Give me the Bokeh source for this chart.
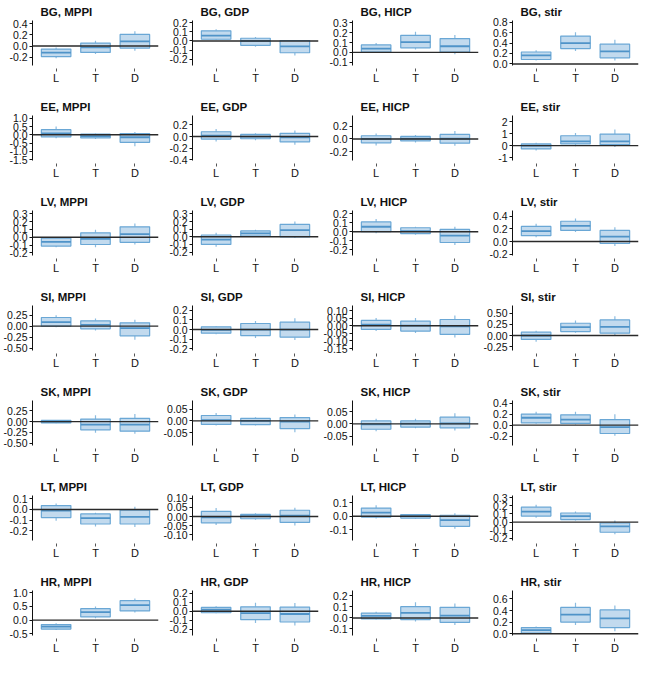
from bokeh.plotting import figure
from bokeh.layouts import gridplot
from bokeh.models import FixedTicker, Range1d, Span
from bokeh.embed import file_html
from bokeh.resources import INLINE

countries = ["BG", "EE", "LV", "SI", "SK", "LT", "HR"]
variables = ["MPPI", "GDP", "HICP", "stir"]
categories = ["L", "T", "D"]

# box statistics per panel, ordered L, T, D
whisker_low = {
    "BG, MPPI": [-0.22, -0.145, -0.084], "BG, GDP": [0.01, -0.063, -0.16],
    "BG, HICP": [-0.007, 0.03, -0.02], "BG, stir": [0.065, 0.247, 0.065],
    "EE, MPPI": [-0.21, -0.25, -0.69], "EE, GDP": [-0.087, -0.065, -0.142],
    "EE, HICP": [-0.1, -0.055, -0.105], "EE, stir": [-0.42, -0.06, -0.11],
    "LV, MPPI": [-0.128, -0.128, -0.092], "LV, GDP": [-0.13, 0.0, -0.016],
    "LV, HICP": [-0.018, -0.033, -0.149], "LV, stir": [0.067, 0.15, -0.072],
    "SI, MPPI": [-0.023, -0.1, -0.31], "SI, GDP": [-0.049, -0.09, -0.11],
    "SI, HICP": [-0.035, -0.048, -0.078], "SI, stir": [-0.14, 0.06, 0.0],
    "SK, MPPI": [-0.04, -0.26, -0.28], "SK, GDP": [-0.02, -0.02, -0.048],
    "SK, HICP": [-0.03, -0.018, -0.027], "SK, stir": [0.023, 0.012, -0.193],
    "LT, MPPI": [-0.106, -0.16, -0.163], "LT, GDP": [-0.046, -0.018, -0.048],
    "LT, HICP": [-0.017, -0.019, -0.093], "LT, stir": [0.052, 0.018, -0.149],
    "HR, MPPI": [-0.36, 0.07, 0.28], "HR, GDP": [-0.024, -0.132, -0.16],
    "HR, HICP": [-0.015, -0.032, -0.065], "HR, stir": [0.0, 0.151, 0.044],
}
q1 = {
    "BG, MPPI": [-0.19, -0.114, -0.036], "BG, GDP": [0.019, -0.048, -0.13],
    "BG, HICP": [0.003, 0.046, 0.003], "BG, stir": [0.085, 0.293, 0.117],
    "EE, MPPI": [-0.13, -0.19, -0.46], "EE, GDP": [-0.044, -0.038, -0.093],
    "EE, HICP": [-0.06, -0.03, -0.065], "EE, stir": [-0.28, 0.14, 0.08],
    "LV, MPPI": [-0.112, -0.092, -0.064], "LV, GDP": [-0.1, 0.008, 0.0],
    "LV, HICP": [0.0, -0.022, -0.12], "LV, stir": [0.093, 0.176, -0.031],
    "SI, MPPI": [0.0, -0.06, -0.22], "SI, GDP": [-0.038, -0.063, -0.08],
    "SI, HICP": [-0.024, -0.035, -0.057], "SI, stir": [-0.09, 0.09, 0.053],
    "SK, MPPI": [-0.03, -0.19, -0.22], "SK, GDP": [-0.015, -0.016, -0.033],
    "SK, HICP": [-0.022, -0.013, -0.016], "SK, stir": [0.04, 0.03, -0.152],
    "LT, MPPI": [-0.076, -0.136, -0.136], "LT, GDP": [-0.034, -0.012, -0.032],
    "LT, HICP": [-0.007, -0.014, -0.075], "LT, stir": [0.073, 0.031, -0.124],
    "HR, MPPI": [-0.326, 0.116, 0.337], "HR, GDP": [-0.017, -0.094, -0.12],
    "HR, HICP": [-0.009, -0.015, -0.041], "HR, stir": [0.013, 0.202, 0.107],
}
median = {
    "BG, MPPI": [-0.12, -0.024, 0.084], "BG, GDP": [0.059, 0.0, -0.059],
    "BG, HICP": [0.039, 0.104, 0.062], "BG, stir": [0.163, 0.397, 0.241],
    "EE, MPPI": [0.077, -0.077, -0.15], "EE, GDP": [0.016, 0.0, -0.016],
    "EE, HICP": [0.0, 0.005, 0.005], "EE, stir": [0.0, 0.36, 0.36],
    "LV, MPPI": [-0.06, -0.02, 0.04], "LV, GDP": [-0.037, 0.045, 0.089],
    "LV, HICP": [0.055, 0.007, -0.044], "LV, stir": [0.165, 0.248, 0.078],
    "SI, MPPI": [0.09, 0.03, -0.045], "SI, GDP": [-0.003, 0.0, 0.0],
    "SI, HICP": [0.007, 0.0, -0.004], "SI, stir": [0.0, 0.188, 0.195],
    "SK, MPPI": [0.0, -0.07, -0.07], "SK, GDP": [0.003, 0.0, -0.003],
    "SK, HICP": [-0.002, 0.001, 0.002], "SK, stir": [0.134, 0.1, -0.035],
    "LT, MPPI": [-0.01, -0.082, -0.07], "LT, GDP": [-0.004, 0.002, 0.005],
    "LT, HICP": [0.027, 0.0, -0.029], "LT, stir": [0.128, 0.073, -0.053],
    "HR, MPPI": [-0.233, 0.29, 0.547], "HR, GDP": [0.017, -0.021, -0.031],
    "HR, HICP": [0.018, 0.047, 0.021], "HR, stir": [0.063, 0.328, 0.265],
}
q3 = {
    "BG, MPPI": [-0.054, 0.054, 0.21], "BG, GDP": [0.111, 0.03, 0.005],
    "BG, HICP": [0.075, 0.173, 0.14], "BG, stir": [0.228, 0.533, 0.377],
    "EE, MPPI": [0.31, 0.04, 0.077], "EE, GDP": [0.082, 0.038, 0.055],
    "EE, HICP": [0.05, 0.04, 0.07], "EE, stir": [0.14, 0.83, 0.97],
    "LV, MPPI": [-0.012, 0.056, 0.132], "LV, GDP": [0.024, 0.077, 0.163],
    "LV, HICP": [0.109, 0.044, 0.025], "LV, stir": [0.238, 0.32, 0.176],
    "SI, MPPI": [0.197, 0.121, 0.076], "SI, GDP": [0.028, 0.063, 0.077],
    "SI, HICP": [0.035, 0.03, 0.041], "SI, stir": [0.075, 0.278, 0.353],
    "SK, MPPI": [0.03, 0.06, 0.076], "SK, GDP": [0.023, 0.011, 0.014],
    "SK, HICP": [0.012, 0.012, 0.027], "SK, stir": [0.2, 0.187, 0.1],
    "LT, MPPI": [0.036, -0.042, -0.006], "LT, GDP": [0.028, 0.012, 0.034],
    "LT, HICP": [0.06, 0.012, 0.007], "LT, stir": [0.182, 0.111, -0.011],
    "HR, MPPI": [-0.163, 0.419, 0.71], "HR, GDP": [0.042, 0.049, 0.045],
    "HR, HICP": [0.044, 0.103, 0.097], "HR, stir": [0.107, 0.454, 0.41],
}
whisker_high = {
    "BG, MPPI": [-0.025, 0.096, 0.265], "BG, GDP": [0.13, 0.044, 0.01],
    "BG, HICP": [0.094, 0.208, 0.176], "BG, stir": [0.26, 0.605, 0.46],
    "EE, MPPI": [0.5, 0.077, 0.17], "EE, GDP": [0.13, 0.055, 0.104],
    "EE, HICP": [0.085, 0.06, 0.125], "EE, stir": [0.25, 1.05, 1.36],
    "LV, MPPI": [0.0, 0.096, 0.176], "LV, GDP": [0.053, 0.093, 0.2],
    "LV, HICP": [0.142, 0.055, 0.055], "LV, stir": [0.28, 0.362, 0.227],
    "SI, MPPI": [0.25, 0.174, 0.144], "SI, GDP": [0.038, 0.09, 0.118],
    "SI, HICP": [0.05, 0.05, 0.067], "SI, stir": [0.11, 0.338, 0.435],
    "SK, MPPI": [0.04, 0.15, 0.176], "SK, GDP": [0.034, 0.016, 0.027],
    "SK, HICP": [0.021, 0.021, 0.043], "SK, stir": [0.245, 0.245, 0.198],
    "LT, MPPI": [0.055, -0.03, 0.024], "LT, GDP": [0.046, 0.018, 0.048],
    "LT, HICP": [0.08, 0.017, 0.022], "LT, stir": [0.212, 0.128, 0.018],
    "HR, MPPI": [-0.116, 0.5, 0.79], "HR, GDP": [0.056, 0.094, 0.09],
    "HR, HICP": [0.056, 0.144, 0.132], "HR, stir": [0.126, 0.536, 0.486],
}

# y-axis ranges and tick labels per panel
y_limits = {
    "BG, MPPI": (-0.35, 0.46), "BG, GDP": (-0.27, 0.225), "BG, HICP": (-0.133, 0.323), "BG, stir": (-0.03, 0.83),
    "EE, MPPI": (-1.56, 1.17), "EE, GDP": (-0.41, 0.36), "EE, HICP": (-0.335, 0.365), "EE, stir": (-1.25, 2.53),
    "LV, MPPI": (-0.232, 0.34), "LV, GDP": (-0.245, 0.345), "LV, HICP": (-0.265, 0.236), "LV, stir": (-0.22, 0.49),
    "SI, MPPI": (-0.553, 0.47), "SI, GDP": (-0.22, 0.252), "SI, HICP": (-0.163, 0.133), "SI, stir": (-0.34, 0.68),
    "SK, MPPI": (-0.553, 0.49), "SK, GDP": (-0.105, 0.087), "SK, HICP": (-0.088, 0.095), "SK, stir": (-0.37, 0.447),
    "LT, MPPI": (-0.29, 0.13), "LT, GDP": (-0.13, 0.114), "LT, HICP": (-0.18, 0.153), "LT, stir": (-0.225, 0.325),
    "HR, MPPI": (-0.56, 1.08), "HR, GDP": (-0.27, 0.23), "HR, HICP": (-0.16, 0.25), "HR, stir": (-0.03, 0.745),
}
y_ticks = {
    "BG, MPPI": ["-0.2", "0.0", "0.2", "0.4"],
    "BG, GDP": ["-0.2", "-0.1", "0.0", "0.1", "0.2"],
    "BG, HICP": ["-0.1", "0.0", "0.1", "0.2", "0.3"],
    "BG, stir": ["0.0", "0.2", "0.4", "0.6", "0.8"],
    "EE, MPPI": ["-1.5", "-1.0", "-0.5", "0.0", "0.5", "1.0"],
    "EE, GDP": ["-0.4", "-0.2", "0.0", "0.2"],
    "EE, HICP": ["-0.2", "0.0", "0.2"],
    "EE, stir": ["-1", "0", "1", "2"],
    "LV, MPPI": ["-0.2", "-0.1", "0.0", "0.1", "0.2", "0.3"],
    "LV, GDP": ["-0.2", "-0.1", "0.0", "0.1", "0.2", "0.3"],
    "LV, HICP": ["-0.2", "-0.1", "0.0", "0.1", "0.2"],
    "LV, stir": ["-0.2", "0.0", "0.2", "0.4"],
    "SI, MPPI": ["-0.50", "-0.25", "0.00", "0.25"],
    "SI, GDP": ["-0.2", "-0.1", "0.0", "0.1", "0.2"],
    "SI, HICP": ["-0.15", "-0.10", "-0.05", "0.00", "0.05", "0.10"],
    "SI, stir": ["-0.25", "0.00", "0.25", "0.50"],
    "SK, MPPI": ["-0.50", "-0.25", "0.00", "0.25"],
    "SK, GDP": ["-0.05", "0.00", "0.05"],
    "SK, HICP": ["-0.05", "0.00", "0.05"],
    "SK, stir": ["-0.2", "0.0", "0.2", "0.4"],
    "LT, MPPI": ["-0.2", "-0.1", "0.0", "0.1"],
    "LT, GDP": ["-0.10", "-0.05", "0.00", "0.05", "0.10"],
    "LT, HICP": ["-0.1", "0.0", "0.1"],
    "LT, stir": ["-0.2", "-0.1", "0.0", "0.1", "0.2", "0.3"],
    "HR, MPPI": ["-0.5", "0.0", "0.5", "1.0"],
    "HR, GDP": ["-0.2", "-0.1", "0.0", "0.1", "0.2"],
    "HR, HICP": ["-0.1", "0.0", "0.1", "0.2"],
    "HR, stir": ["0.0", "0.2", "0.4", "0.6"],
}

FONT = "Liberation Sans"
BOX_FILL = "#c2daee"
BOX_LINE = "#6aa7d5"
MEDIAN = "#4f93c8"
WHISKER = "#8cbce0"
BOX_W = 0.75

figs = []
for c in countries:
    for v in variables:
        name = f"{c}, {v}"
        lo_lim, hi_lim = y_limits[name]
        p = figure(width=160, height=95, output_backend="svg", toolbar_location=None,
                   x_range=Range1d(0.4, 3.6), y_range=Range1d(lo_lim, hi_lim),
                   min_border_left=31, min_border_right=2, min_border_top=19,
                   min_border_bottom=30)
        p.title.text = name
        p.title.text_font = FONT
        p.title.text_font_style = "bold"
        p.title.text_font_size = "11.5px"
        p.title.text_color = "#111111"
        p.title.align = "left"
        p.title.offset = 8
        p.title.standoff = 6
        p.grid.visible = False
        p.outline_line_color = None

        xs = [i + 1 for i in range(len(categories))]
        lo = whisker_low[name]
        b1 = q1[name]
        md = median[name]
        b3 = q3[name]
        hi = whisker_high[name]

        p.segment(x0=xs, y0=b3, x1=xs, y1=hi, line_color=WHISKER, line_width=1.2)
        p.segment(x0=xs, y0=lo, x1=xs, y1=b1, line_color=WHISKER, line_width=1.2)
        p.vbar(x=xs, width=BOX_W, bottom=b1, top=b3, fill_color=BOX_FILL,
               line_color=BOX_LINE, line_width=1.2)
        p.segment(x0=[x - BOX_W / 2 for x in xs], y0=md, x1=[x + BOX_W / 2 for x in xs], y1=md,
                  line_color=MEDIAN, line_width=1.8)
        p.add_layout(Span(location=0, dimension="width", line_color="#2a2a2a", line_width=1.4))

        # x axis: no line, detached ticks
        xa = p.xaxis[0]
        xa.ticker = FixedTicker(ticks=xs)
        xa.major_label_overrides = {x: cat for x, cat in zip(xs, categories)}
        xa.axis_line_color = None
        xa.major_tick_in = -3
        xa.major_tick_out = 6
        xa.major_tick_line_color = "#555555"
        xa.minor_tick_line_color = None
        xa.major_label_text_font = FONT
        xa.major_label_text_font_size = "11px"
        xa.major_label_text_color = "#111111"
        xa.major_label_standoff = 0

        ya = p.yaxis[0]
        tick_vals = [float(t) for t in y_ticks[name]]
        ya.ticker = FixedTicker(ticks=tick_vals)
        ya.major_label_overrides = {float(t): t for t in y_ticks[name]}
        ya.axis_line_color = "#111111"
        ya.axis_line_width = 1
        ya.major_tick_in = 0
        ya.major_tick_out = 3
        ya.major_tick_line_color = "#111111"
        ya.minor_tick_line_color = None
        ya.major_label_text_font = FONT
        ya.major_label_text_font_size = "10.5px"
        ya.major_label_text_color = "#111111"
        ya.major_label_standoff = 2
        figs.append(p)

grid = gridplot(figs, ncols=4, toolbar_location=None)
open("out.html", "w").write(file_html(grid, INLINE))
